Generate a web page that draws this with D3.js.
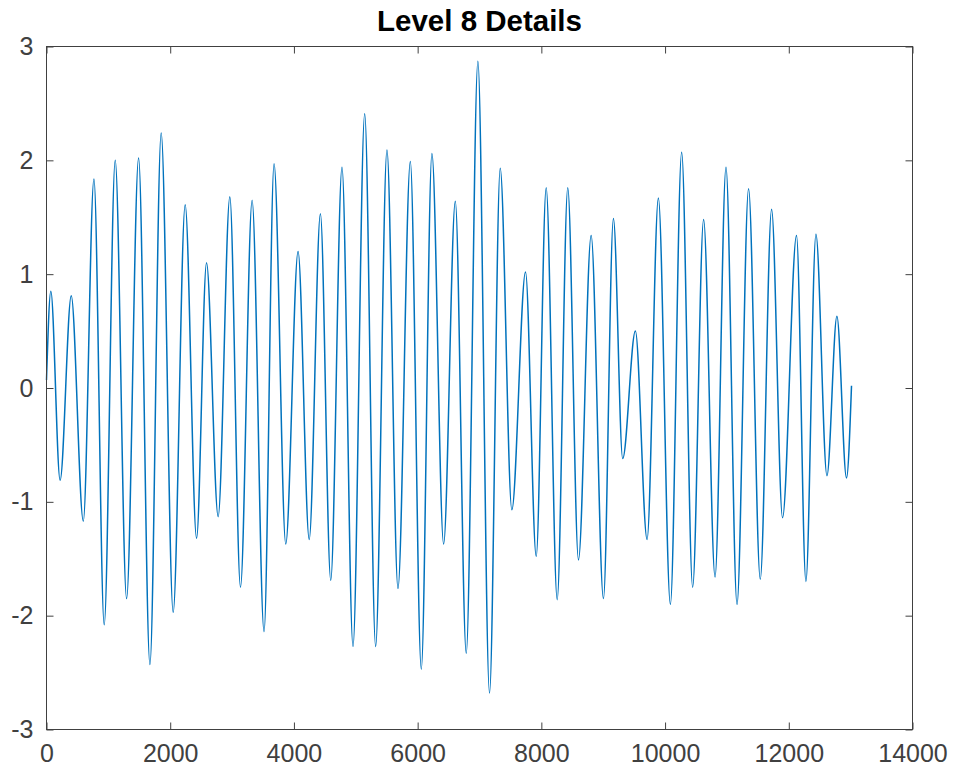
<!DOCTYPE html>
<html>
<head>
<meta charset="utf-8">
<script src="https://cdn.jsdelivr.net/npm/d3@7"></script>
<style>
  html, body { margin: 0; padding: 0; background: #fff; }
  svg { display: block; }
</style>
</head>
<body>
<script>
// Extrema of the signal (sample index, value)
const sampleIndex = [0, 70, 220, 400, 595, 767, 933, 1111, 1295, 1489, 1672, 1854, 2048, 2242, 2426, 2587, 2775, 2964, 3136, 3324, 3517, 3679, 3868, 4067, 4247, 4428, 4595, 4777, 4955, 5144, 5321, 5504, 5682, 5882, 6059, 6231, 6420, 6609, 6786, 6974, 7162, 7335, 7523, 7744, 7917, 8078, 8256, 8427, 8600, 8805, 9004, 9165, 9315, 9520, 9709, 9892, 10086, 10268, 10446, 10623, 10808, 10985, 11163, 11350, 11539, 11722, 11899, 12125, 12277, 12439, 12617, 12778, 12933, 13014];
const signalValues = [0.07, 0.85, -0.81, 0.81, -1.17, 1.835, -2.08, 2.00, -1.85, 2.02, -2.43, 2.24, -1.97, 1.61, -1.32, 1.10, -1.13, 1.68, -1.75, 1.65, -2.14, 1.97, -1.37, 1.20, -1.33, 1.53, -1.69, 1.94, -2.27, 2.41, -2.27, 2.09, -1.76, 1.99, -2.47, 2.06, -1.37, 1.64, -2.33, 2.87, -2.68, 1.93, -1.07, 1.02, -1.48, 1.76, -1.86, 1.76, -1.51, 1.34, -1.85, 1.49, -0.62, 0.50, -1.33, 1.67, -1.90, 2.07, -1.75, 1.48, -1.66, 1.94, -1.90, 1.75, -1.68, 1.57, -1.14, 1.34, -1.70, 1.35, -0.77, 0.63, -0.79, 0.02];
const xTicks = [0, 2000, 4000, 6000, 8000, 10000, 12000, 14000];
const yTicks = [-3, -2, -1, 0, 1, 2, 3];
const xDomain = [0, 14000];
const yDomain = [-3, 3];
const chartTitle = "Level 8 Details";

const W = 953, H = 774;
const mLeft = 46.5, mRight = 912.5, mTop = 46.5, mBottom = 729.5;

const svg = d3.select("body").append("svg").attr("width", W).attr("height", H);

const x = d3.scaleLinear().domain(xDomain).range([mLeft, mRight]);
const y = d3.scaleLinear().domain(yDomain).range([mBottom, mTop]);

const data = sampleIndex.map((s, i) => ({ s, v: signalValues[i] }));

const line = d3.line()
  .x(d => x(d.s))
  .y(d => y(d.v))
  .curve(d3.curveMonotoneX);

svg.append("path")
  .datum(data)
  .attr("d", line)
  .attr("fill", "none")
  .attr("stroke", "#0072BD")
  .attr("stroke-width", 1.5);

const axisColor = "#404040";
const fmt = d => String(d);
const font = "'Liberation Sans', Arial, Helvetica, sans-serif";

function styleAxis(g, showLabels) {
  g.select(".domain").remove();
  g.selectAll(".tick line").attr("stroke", axisColor).attr("stroke-width", 1);
  g.selectAll(".tick text")
    .attr("fill", axisColor)
    .style("font-family", font)
    .style("font-size", "25px");
  if (!showLabels) g.selectAll(".tick text").remove();
}

// bottom
svg.append("g").attr("transform", `translate(0,${mBottom})`)
  .call(d3.axisBottom(x).tickValues(xTicks).tickFormat(fmt).tickSizeInner(-7).tickSizeOuter(0).tickPadding(15))
  .call(g => styleAxis(g, true));
// top
svg.append("g").attr("transform", `translate(0,${mTop})`)
  .call(d3.axisTop(x).tickValues(xTicks).tickSizeInner(-7).tickSizeOuter(0))
  .call(g => styleAxis(g, false));
// left
svg.append("g").attr("transform", `translate(${mLeft},0)`)
  .call(d3.axisLeft(y).tickValues(yTicks).tickFormat(fmt).tickSizeInner(-7).tickSizeOuter(0).tickPadding(13))
  .call(g => styleAxis(g, true));
// right
svg.append("g").attr("transform", `translate(${mRight},0)`)
  .call(d3.axisRight(y).tickValues(yTicks).tickSizeInner(-7).tickSizeOuter(0))
  .call(g => styleAxis(g, false));

// box
svg.append("rect")
  .attr("x", mLeft).attr("y", mTop)
  .attr("width", mRight - mLeft).attr("height", mBottom - mTop)
  .attr("fill", "none").attr("stroke", axisColor).attr("stroke-width", 1);

svg.append("text")
  .attr("x", (mLeft + mRight) / 2)
  .attr("y", 30.5)
  .attr("text-anchor", "middle")
  .style("font-family", font)
  .style("font-size", "29.5px")
  .style("font-weight", "bold")
  .attr("fill", "#000")
  .text(chartTitle);
</script>
</body>
</html>
